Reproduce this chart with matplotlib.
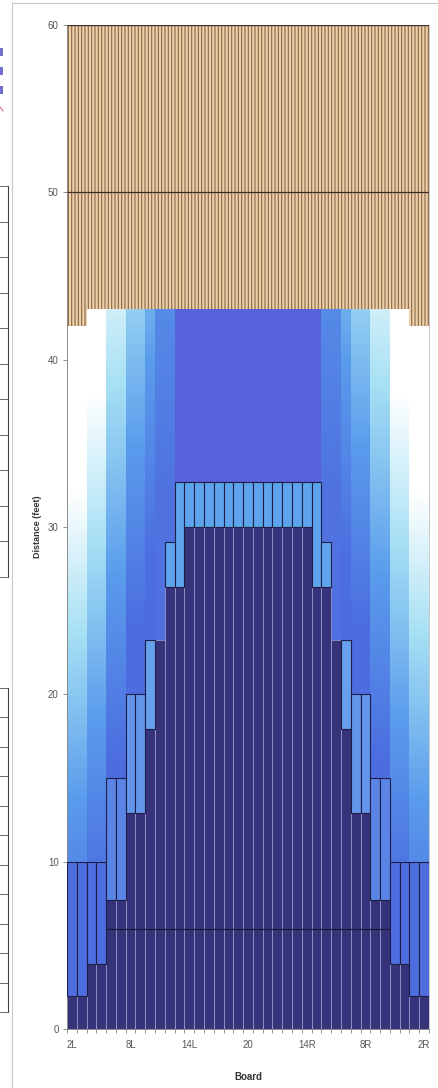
import numpy as np
import matplotlib
matplotlib.use('Agg')
import matplotlib.pyplot as plt
from matplotlib.colors import to_rgb
from matplotlib.lines import Line2D

plt.rcParams['font.family'] = ['Liberation Sans', 'DejaVu Sans']
plt.rcParams['hatch.linewidth'] = 0.8

# ---------------- data ----------------
boards = [f'{n}L' for n in range(2, 20)] + ['20'] + [f'{n}R' for n in range(19, 1, -1)]
tick_labels = ['2L', '8L', '14L', '20', '14R', '8R', '2R']

# top of the heavy (dark) oil for each board, feet
dark_top = [2, 2, 3.9, 3.9, 7.7, 7.7, 12.9, 12.9, 17.9, 23.25, 26.4, 26.4,
            30, 30, 30, 30, 30, 30, 30, 30, 30, 30, 30, 30, 30,
            26.4, 26.4, 23.25, 17.9, 12.9, 12.9, 7.7, 7.7, 3.9, 3.9, 2, 2]
# top of the lighter outlined oil block, feet
box_top = [10, 10, 10, 10, 15, 15, 20, 20, 23.25, 23.25, 29.1, 32.7,
           32.7, 32.7, 32.7, 32.7, 32.7, 32.7, 32.7, 32.7, 32.7, 32.7, 32.7, 32.7, 32.7,
           32.7, 29.1, 23.25, 23.25, 20, 20, 15, 15, 10, 10, 10, 10]
# end of the oil (start of dry lane), feet
oil_end = [42, 42] + [43] * 33 + [42, 42]
# thin-oil fade: height where blue starts to fade and where it reaches white
fade_lo = [4, 4, 8, 8, 16, 16, 24, 24, 28, 32, 32, 43,
           43, 43, 43, 43, 43, 43, 43, 43, 43, 43, 43, 43, 43,
           43, 32, 32, 28, 24, 24, 16, 16, 8, 8, 4, 4]
fade_hi = [32, 32, 38, 38, 48, 48, 55, 55, 62, 85, 85, 200,
           200, 200, 200, 200, 200, 200, 200, 200, 200, 200, 200, 200, 200,
           200, 85, 85, 62, 55, 55, 48, 48, 38, 38, 32, 32]
lane_mid = 50
lane_end = 60

# ---------------- figure ----------------
fig = plt.figure(figsize=(4.39, 10.88), dpi=100)
ax = fig.add_axes([67/439, 59/1088, 362/439, 1004/1088])

n = len(boards)
x = np.arange(n)
dark_top = np.array(dark_top, float)
box_top = np.array(box_top, float)
oil_end = np.array(oil_end, float)

# background gradient columns (thin oil)
top = oil_end.max()
ny = 430
yy = (np.arange(ny) + 0.5) * top / ny
img = np.zeros((ny, n, 3))
stops = [0.0, 0.35, 0.7, 1.0]
for k in range(n):
    d = min(k, n - 1 - k)
    if d >= 11:
        base = '#5761d9'
    elif d >= 9:
        base = '#4f72e0'
    else:
        base = '#4c6de0'
    cols = [to_rgb(c) for c in [base, '#5a9cec', '#a6e0f4', '#ffffff']]
    f = np.clip((yy - fade_lo[k]) / (fade_hi[k] - fade_lo[k]), 0, 1)
    for ch in range(3):
        img[:, k, ch] = np.interp(f, stops, [c[ch] for c in cols])
ax.imshow(img, extent=(-0.5, n - 0.5, 0, top), origin='lower', aspect='auto',
          interpolation='nearest', zorder=0)

# heavy oil
ax.bar(x, dark_top, width=1.0, color='#36337a', edgecolor='#a2a2d0',
       linewidth=0.5, zorder=2)

# lighter outlined blocks
def box_color(k):
    d = min(k, n - 1 - k)
    if d <= 3:
        return '#4e6ddf'
    if d <= 5:
        return '#5a84e6'
    if d <= 7:
        return '#6396eb'
    if d == 8:
        return '#67a0ec'
    return '#5ea4ec'

h = box_top - dark_top
m = h > 0
ax.bar(x[m], h[m], bottom=dark_top[m], width=1.0,
       color=[box_color(k) for k in x[m]], edgecolor='#1e1e48',
       linewidth=0.8, zorder=3)

# line at 6 ft across heavy-oil boards
w = np.where(dark_top > 6)[0]
ax.hlines(6, w[0] - 0.5, w[-1] + 0.5, color='#1a1a3a', linewidth=0.9, zorder=4)

# dry lane (tan, finely striped)
ax.bar(x, lane_end - oil_end, bottom=oil_end, width=1.0, color='#ecd0aa',
       edgecolor='#8c6646', linewidth=0, hatch='|||||', zorder=2)
ax.hlines([lane_mid, lane_end], -0.5, n - 0.5, color='#3c2e26', linewidth=0.9, zorder=4)

# ---------------- axes styling ----------------
ax.set_xlim(-0.5, n - 0.5)
ax.set_ylim(0, 60)
ax.set_yticks(range(0, 61, 10))
ax.set_xticks([boards.index(t) for t in tick_labels])
ax.set_xticklabels(tick_labels)
ax.set_xticks(np.arange(-0.5, n, 1.0), minor=True)
ax.tick_params(axis='x', which='major', length=0, pad=8, labelsize=7, labelcolor='#555555')
ax.tick_params(axis='x', which='minor', length=3, width=0.6, color='#808080', direction='out')
ax.tick_params(axis='y', which='major', length=3, width=0.6, color='#808080', pad=3,
               labelsize=7, labelcolor='#555555')
for s in ['left', 'bottom']:
    ax.spines[s].set_color('#8a8a8a')
    ax.spines[s].set_linewidth(0.7)
ax.spines['top'].set_visible(False)
ax.spines['right'].set_color('#c0c0c0')
ax.spines['right'].set_linewidth(0.6)

ax.set_xlabel('Board', fontsize=7, fontweight='bold', color='#333333')
ax.xaxis.set_label_coords(0.5, -0.043)
ax.set_ylabel('Distance (feet)', fontsize=6.5, fontweight='bold', color='#333333')
ax.yaxis.set_label_coords(-0.07, 0.5)

# chart-area border and clipped neighbour fragments
fig.add_artist(Line2D([12/439, 12/439], [0, 1 - 3/1088], transform=fig.transFigure,
                      color='#c8c8c8', linewidth=0.8))
fig.add_artist(Line2D([12/439, 1], [1 - 3/1088, 1 - 3/1088], transform=fig.transFigure,
                      color='#c8c8c8', linewidth=0.8))
for yc in [52, 71, 90]:
    fig.add_artist(plt.Rectangle((0, 1 - (yc + 4)/1088), 3/439, 8/1088,
                                 transform=fig.transFigure, color='#7070cc', lw=0))
fig.add_artist(Line2D([0, 3/439], [1 - 107/1088, 1 - 111/1088], transform=fig.transFigure,
                      color='#e07080', linewidth=0.8))
for y0, y1 in [(186, 577), (688, 1012)]:
    fig.add_artist(Line2D([8/439, 8/439], [1 - y0/1088, 1 - y1/1088],
                          transform=fig.transFigure, color='#404040', linewidth=0.8))
    for yt in np.linspace(y0, y1, 12):
        fig.add_artist(Line2D([0, 8/439], [1 - yt/1088, 1 - yt/1088],
                              transform=fig.transFigure, color='#505050', linewidth=0.6))

fig.savefig('out.png', dpi=100)
